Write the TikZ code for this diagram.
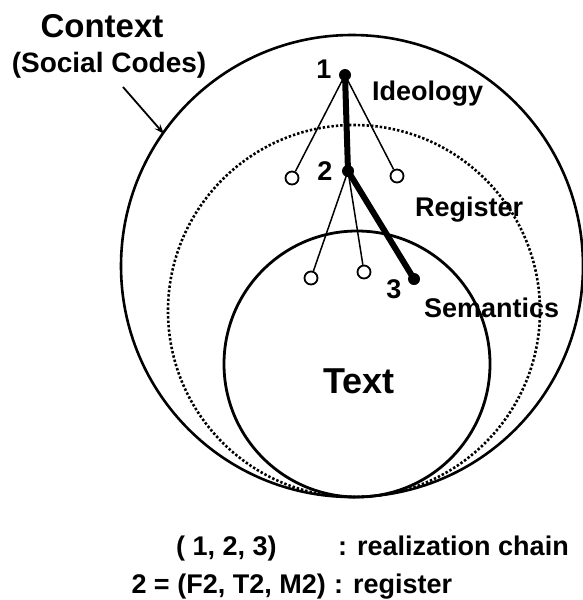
\documentclass[tikz,border=0pt]{standalone}
\usepackage{fontspec}
\setmainfont{Liberation Sans}
\usetikzlibrary{arrows.meta}

\newcommand\lblfont{\fontsize{27}{31}\selectfont\bfseries}
\newcommand\bigfont{\fontsize{33}{38}\selectfont\bfseries}

\begin{document}
\begin{tikzpicture}[x=1pt,y=-1pt,
    every node/.style={inner sep=0pt,font=\lblfont},
    dot/.style={circle,fill,minimum size=12pt},
    leaf/.style={circle,draw,line width=1.8pt,fill=white,minimum size=13pt},
    twig/.style={line width=1.5pt},
    spine/.style={line width=6pt}]
\useasboundingbox (0,0) rectangle (582,600);
                \draw[line width=2.6pt] (352,266) circle[radius=231pt];
                \draw[line width=2.6pt,dash pattern=on 2.4pt off 2pt] (354,311) circle[radius=186pt];
                \draw[line width=2.8pt] (357,364) circle[radius=133pt];

                \node[dot] (n1) at (345,75) {};
                \node[dot] (n2) at (348,171) {};
                \node[dot] (n3) at (414,279) {};
                \node[leaf] (o1) at (292,178) {};
                \node[leaf] (o2) at (397,176) {};
                \node[leaf] (o3) at (311,278) {};
                \node[leaf] (o4) at (364,272) {};
                \draw[twig] (n1.center) -- (o1);
                \draw[twig] (n1.center) -- (o2);
                \draw[twig] (n2.center) -- (o3);
                \draw[twig] (n2.center) -- (o4);
                \draw[spine] (n1.center) -- (n2.center) -- (n3.center);

                \node[anchor=base] (lab1) at (324,78) {1};
                \node[anchor=base] (lab2) at (325,180) {2};
                \node[anchor=base] (lab3) at (394,298) {3};
                \node[anchor=base west] (ideo) at (372,100) {Ideology};
                \node[anchor=base west] (reg) at (415,216) {Register};
                \node[anchor=base west] (sem) at (424,317) {Semantics};
                \node[anchor=base west,font=\fontsize{36}{41}\selectfont\bfseries] (txt) at (323,393) {Text};

                \node[anchor=base,font=\bigfont] (ctx) at (102,37) {Context};
                \node[anchor=base,font=\fontsize{28}{32}\selectfont\bfseries] (codes) at (109,72) {(Social Codes)};
                \coordinate (tail) at (123,87);
                \coordinate (head) at (164,134);
                \draw[line width=1.8pt,-{Stealth[length=10pt,width=7pt]}] (tail) -- (head);

                \node[anchor=base west] (cap1a) at (176,555) {( 1, 2, 3)};
                \node[anchor=base west] (cap1b) at (338,555) {: realization chain};
                \node[anchor=base east] (cap2a) at (326,593) {2 = (F2, T2, M2)};
                \node[anchor=base west] (cap2b) at (334,593) {: register};
            \end{tikzpicture}
\end{document}
